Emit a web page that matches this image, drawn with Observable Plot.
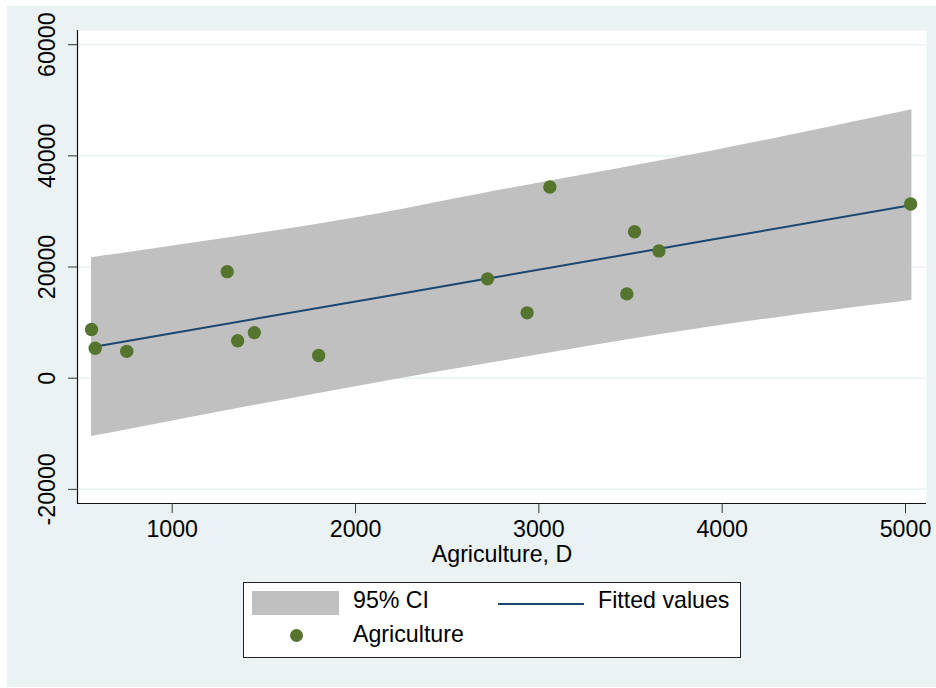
<!DOCTYPE html>
<html>
<head>
<meta charset="utf-8">
<script src="https://cdn.jsdelivr.net/npm/d3@7"></script>
<script src="https://cdn.jsdelivr.net/npm/@observablehq/plot@0.6"></script>
<style>
  html, body { margin: 0; padding: 0; background: #ffffff; }
  #page { position: relative; width: 936px; height: 688px; overflow: hidden;
          font-family: "Liberation Sans", Arial, sans-serif; color: #000; }
  #bg { position: absolute; left: 7px; top: 6px; width: 929px; height: 681px; background: #EAF2F3; }
  #chart { position: absolute; left: 0; top: 0; }
  #legend { position: absolute; left: 243px; top: 582px; width: 496px; height: 74px;
            background: #fff; border: 1px solid #222; }
  .lg { position: absolute; font-size: 23.2px; line-height: 23.2px; white-space: nowrap; }
</style>
</head>
<body>
<div id="page">
  <div id="bg"></div>
  <div id="chart"></div>
  <div id="legend"></div>
</div>
<script>
// ---- data ----
const xTicks = [1000, 2000, 3000, 4000, 5000];
const yTicks = [-20000, 0, 20000, 40000, 60000];

// Agriculture scatter points
const agriX = [560, 580, 752, 1300, 1357, 1448, 1799, 2720, 2936, 3060, 3480, 3522, 3655, 5028];
const agriY = [8750, 5400, 4830, 19170, 6750, 8200, 4080, 17870, 11760, 34400, 15170, 26350, 22900, 31350];

// Fitted values and 95% CI band (read along the band)
const ciX   = [560, 827, 2136, 2682, 3954, 5035];
const ciLo  = [-10476, -8805, -719, 2408, 9300, 13962];
const ciHi  = [21689, 22947, 29650, 33136, 40916, 48283];
const fitY  = [5550, 7094, 14582, 17705, 24981, 31150];

const legendLabels = ["95% CI", "Fitted values", "Agriculture"];
const xLabel = "Agriculture, D";

// ---- tables ----
const points = agriX.map((x, i) => ({x, y: agriY[i]}));
const band = ciX.map((x, i) => ({x, lo: ciLo[i], hi: ciHi[i], fit: fitY[i]}));

const xDomain = [483.4, 5114.5];
const yDomain = [-22542, 62553];

const FS = 23.2;
const GRID = "#EAF2F3", CI = "#C0C0C0", FIT = "#1A476F", DOT = "#55752F";
const fmt = d => String(d);

const chart = Plot.plot({
  width: 936,
  height: 580,
  marginLeft: 77,
  marginRight: 10,
  marginTop: 30,
  marginBottom: 77,
  style: {background: "transparent", fontFamily: "'Liberation Sans', Arial, sans-serif", color: "#000", overflow: "visible"},
  x: {domain: xDomain, label: null},
  y: {domain: yDomain, label: null},
  marks: [
    Plot.frame({fill: "white", stroke: "none"}),
    Plot.ruleY(yTicks, {stroke: GRID, strokeWidth: 1.5}),
    Plot.areaY(band, {x: "x", y1: "lo", y2: "hi", fill: CI, curve: "monotone-x"}),
    Plot.lineY(band, {x: "x", y: "fit", stroke: FIT, strokeWidth: 2}),
    Plot.dot(points, {x: "x", y: "y", r: 6.7, fill: DOT, stroke: "none"}),
    Plot.ruleX([xDomain[0]], {stroke: "#111", strokeWidth: 1.2}),
    Plot.ruleY([yDomain[0]], {stroke: "#111", strokeWidth: 1.2}),
    Plot.axisY(yTicks, {tickSize: 9, tickRotate: -90, tickPadding: 14, fontSize: FS, stroke: "#333", fill: "#000", label: null, tickFormat: fmt}),
    Plot.axisX(xTicks, {tickSize: 10, tickPadding: 7, fontSize: FS, stroke: "#333", fill: "#000", label: null, tickFormat: fmt}),
    Plot.text([xLabel], {frameAnchor: "bottom", dy: 58, fontSize: FS, fill: "#000", text: d => d})
  ]
});
document.getElementById("chart").appendChild(chart);

// ---- legend (HTML, below the plot) ----
const lg = document.getElementById("legend");
lg.innerHTML = `
  <div style="position:absolute;left:8px;top:8px;width:87px;height:24px;background:${CI}"></div>
  <div class="lg" style="left:109px;top:6px">${legendLabels[0]}</div>
  <div style="position:absolute;left:254px;top:20px;width:86px;height:2px;background:${FIT}"></div>
  <div class="lg" style="left:354px;top:6px">${legendLabels[1]}</div>
  <div style="position:absolute;left:46px;top:46px;width:13px;height:13px;border-radius:50%;background:${DOT}"></div>
  <div class="lg" style="left:109px;top:40px">${legendLabels[2]}</div>
`;
</script>
</body>
</html>
